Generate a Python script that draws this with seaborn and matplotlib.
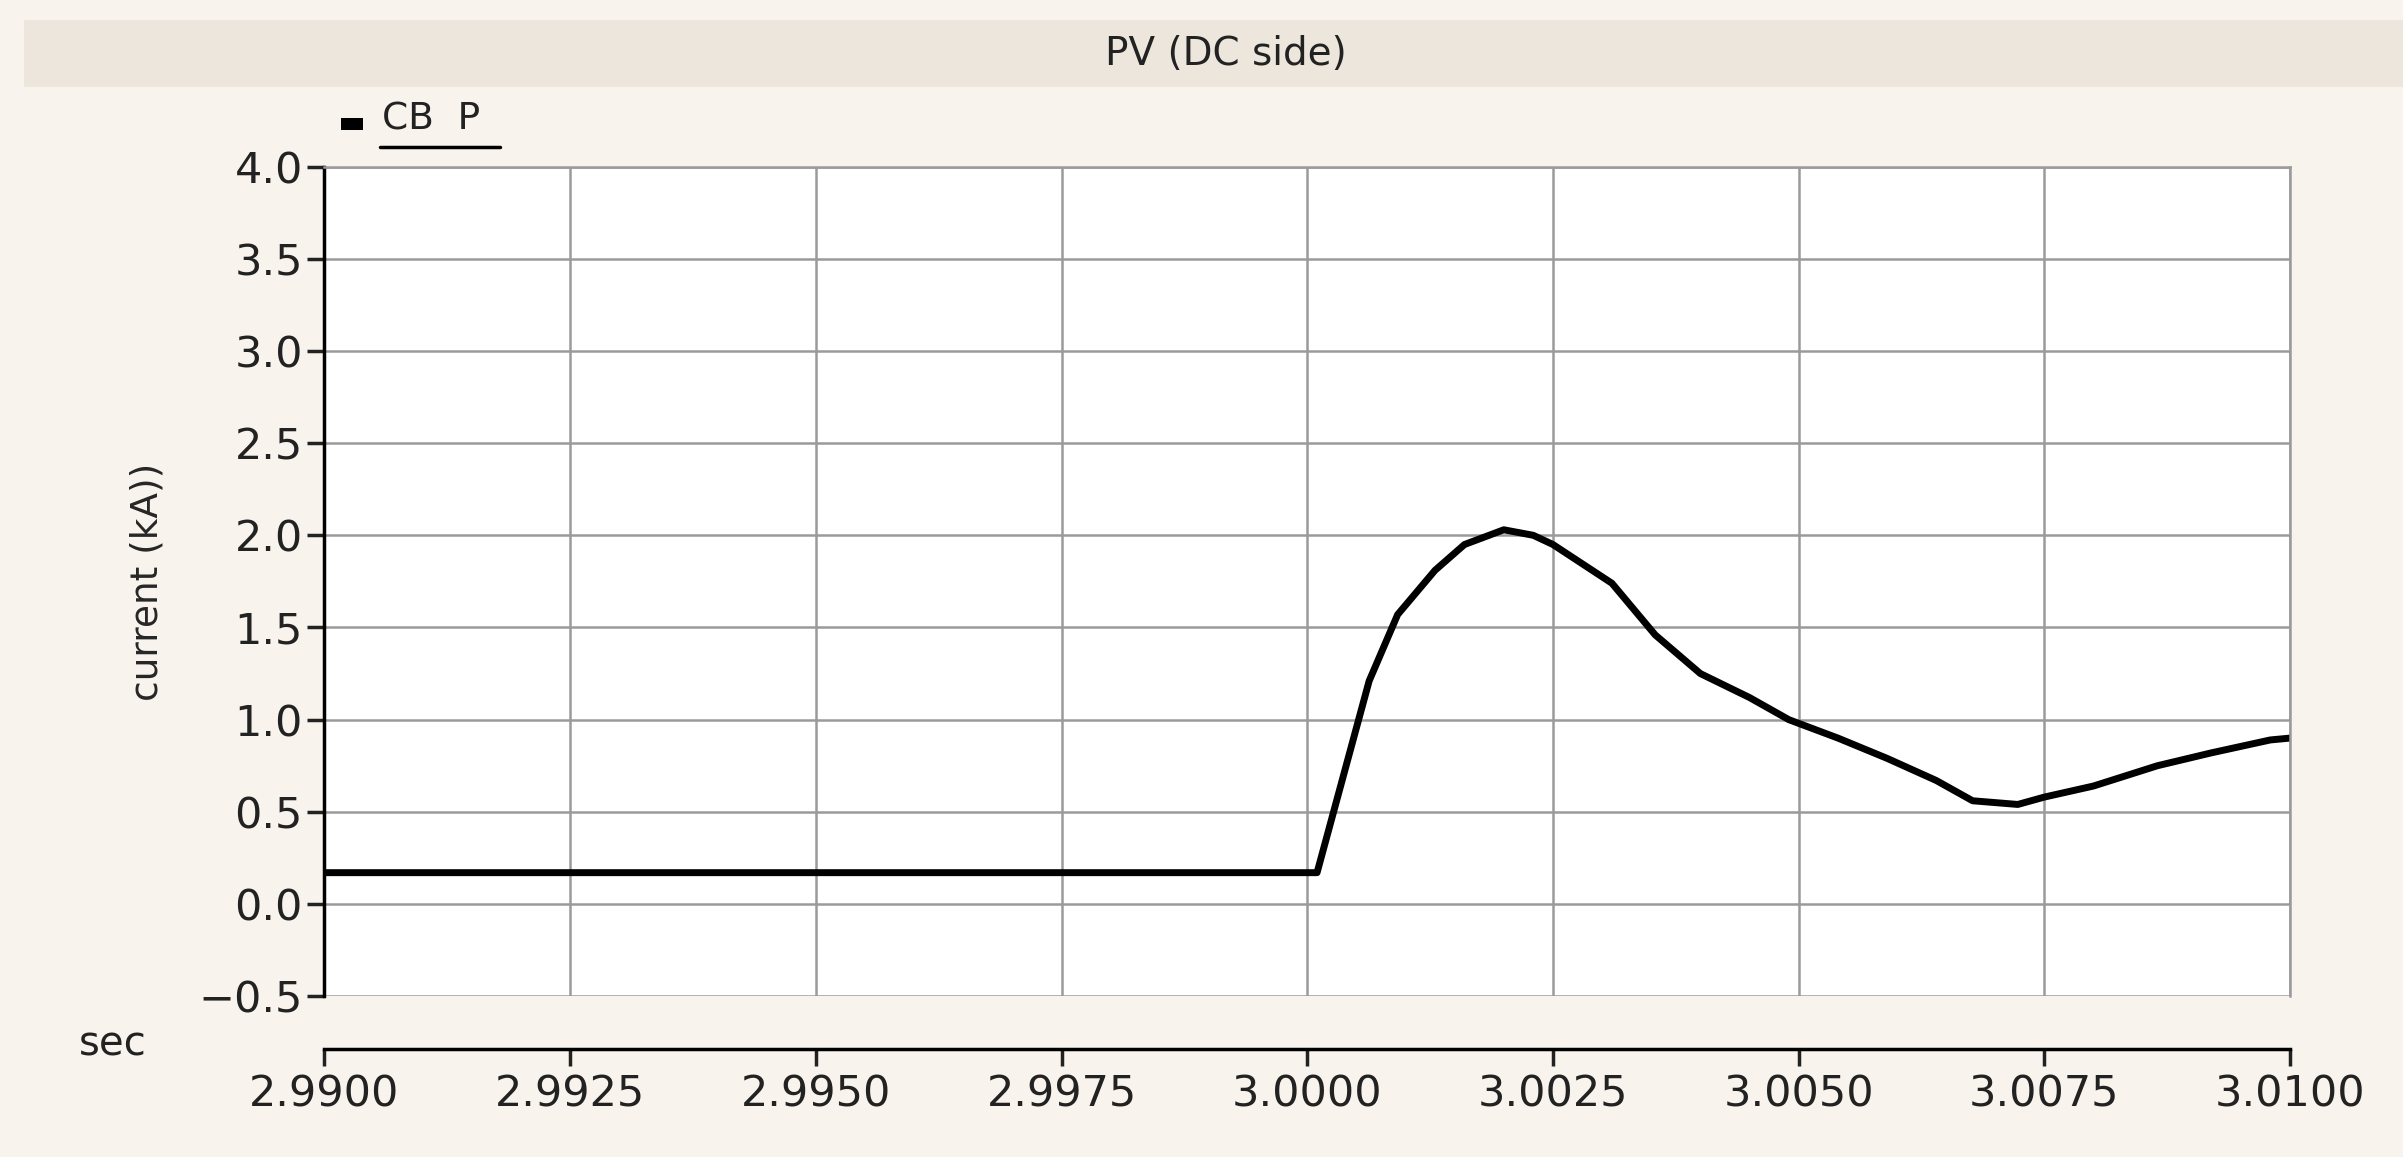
import matplotlib
matplotlib.use("Agg")
import matplotlib.pyplot as plt
import matplotlib.patches as mpatches
import pandas as pd
import seaborn as sns

# trace
time_s = [2.9900, 2.9950, 3.0000, 3.0001, 3.00063, 3.00092, 3.0013, 3.0016, 3.0020,
          3.0023, 3.0025, 3.0031, 3.00354, 3.0040, 3.0045, 3.0049, 3.0054, 3.0059,
          3.0064, 3.00677, 3.00723, 3.0075, 3.0080, 3.00865, 3.0092, 3.0098, 3.0100]
current_ka = [0.17, 0.17, 0.17, 0.17, 1.21, 1.57, 1.81, 1.95, 2.03,
              2.00, 1.95, 1.74, 1.46, 1.25, 1.12, 1.00, 0.90, 0.79,
              0.67, 0.56, 0.54, 0.58, 0.64, 0.75, 0.82, 0.89, 0.90]
x_ticks = [2.9900, 2.9925, 2.9950, 2.9975, 3.0000, 3.0025, 3.0050, 3.0075, 3.0100]
y_ticks = [-0.5, 0.0, 0.5, 1.0, 1.5, 2.0, 2.5, 3.0, 3.5, 4.0]

df = pd.DataFrame({"t": time_s, "i": current_ka})

sns.set_style("white")
plt.rcParams["font.family"] = ["DejaVu Sans"]
bg = "#f8f3ec"

fig = plt.figure(figsize=(24.03, 11.57), dpi=100, facecolor=bg)
ax = fig.add_axes([0.135, 0.139, 0.818, 0.717])
ax.set_facecolor("white")

# title band
fig.patches.append(mpatches.Rectangle((0.01, 0.925), 0.99, 0.058, transform=fig.transFigure,
                                      facecolor="#ece6dc", edgecolor="none", zorder=0))
fig.text(0.51, 0.953, "PV (DC side)", ha="center", va="center", fontsize=28, color="#222222")

sns.lineplot(data=df, x="t", y="i", ax=ax, color="black", linewidth=5)

ax.set_xlim(2.99, 3.01)
ax.set_ylim(-0.5, 4.0)
ax.set_xticks(x_ticks)
ax.set_xticklabels([f"{v:.4f}" for v in x_ticks])
ax.set_yticks(y_ticks)
ax.set_yticklabels([f"{v:.1f}".replace("-", "\u2212") for v in y_ticks])
ax.grid(True, color="#9a9a9a", linewidth=1.8)
for s in ["top", "right"]:
    ax.spines[s].set_color("#9a9a9a")
    ax.spines[s].set_linewidth(1.8)
ax.spines["left"].set_color("black")
ax.spines["left"].set_linewidth(2.5)
ax.spines["bottom"].set_color("black")
ax.spines["bottom"].set_linewidth(2.5)
ax.spines["bottom"].set_position(("outward", 38))
ax.tick_params(axis="both", labelsize=31, colors="#222222", length=12, width=2.5,
               direction="out", bottom=True, left=True)
ax.tick_params(axis="x", pad=6)
ax.set_xlabel("")
ax.set_ylabel("current (kA))", fontsize=27, labelpad=24)
fig.text(0.047, 0.097, "sec", fontsize=29, color="#222222", ha="center", va="center")

# legend-style label
fig.patches.append(mpatches.Rectangle((0.142, 0.888), 0.009, 0.01, transform=fig.transFigure,
                                      facecolor="black", edgecolor="none"))
fig.text(0.159, 0.881, "CB  P", fontsize=27, color="#222222", ha="left", va="bottom")
fig.lines.append(plt.Line2D([0.158, 0.208], [0.873, 0.873], transform=fig.transFigure,
                            color="black", linewidth=2.5))

fig.savefig("out.png", dpi=100, facecolor=bg)
